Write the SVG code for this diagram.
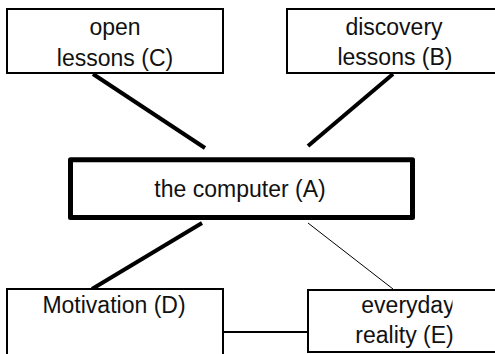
<svg xmlns="http://www.w3.org/2000/svg" width="495" height="354" viewBox="0 0 495 354">
<style>
.box{fill:#fff;stroke:#000;stroke-width:2}
.main{fill:#fff;stroke:#000;stroke-width:5;stroke-linejoin:round}
.t{font-family:"Liberation Sans",Arial,sans-serif;font-size:23px;fill:#111;text-anchor:middle}
.thick{stroke:#000;stroke-width:4;fill:none}
.thin{stroke:#000;stroke-width:1;fill:none}
.mid{stroke:#000;stroke-width:2;fill:none}
</style>
<defs>
<clipPath id="clipE"><rect x="300" y="290" width="152.5" height="64"/></clipPath>
</defs>
<rect width="495" height="354" fill="#fff"/>
<g id="connectors">
<line class="thick" x1="93" y1="74" x2="205" y2="148"/>
<line class="thick" x1="393" y1="74" x2="308" y2="146"/>
<line class="thick" x1="202" y1="223" x2="92" y2="289"/>
<line class="thin" x1="308" y1="223" x2="393" y2="289"/>
<line class="mid" x1="223" y1="332" x2="308" y2="332"/>
</g>
<g id="nodeC">
<rect class="box" x="7" y="9" width="216" height="64"/>
<text class="t" x="115" y="35">open</text>
<text class="t" x="115" y="66">lessons (C)</text>
</g>
<g id="nodeB">
<rect class="box" x="287" y="9" width="220" height="64"/>
<text class="t" x="394" y="35">discovery</text>
<text class="t" x="395" y="65">lessons (B)</text>
</g>
<g id="nodeA">
<rect class="main" x="70.5" y="159.8" width="342" height="57.7"/>
<text class="t" x="240" y="197">the computer (A)</text>
</g>
<g id="nodeD">
<rect class="box" x="7" y="289" width="216" height="80"/>
<text class="t" x="114" y="313">Motivation (D)</text>
</g>
<g id="nodeE">
<rect class="box" x="308" y="290" width="200" height="62"/>
<g clip-path="url(#clipE)">
<text class="t" x="408" y="313">everyday</text>
</g>
<text class="t" x="404.5" y="343">reality (E)</text>
</g>
</svg>
